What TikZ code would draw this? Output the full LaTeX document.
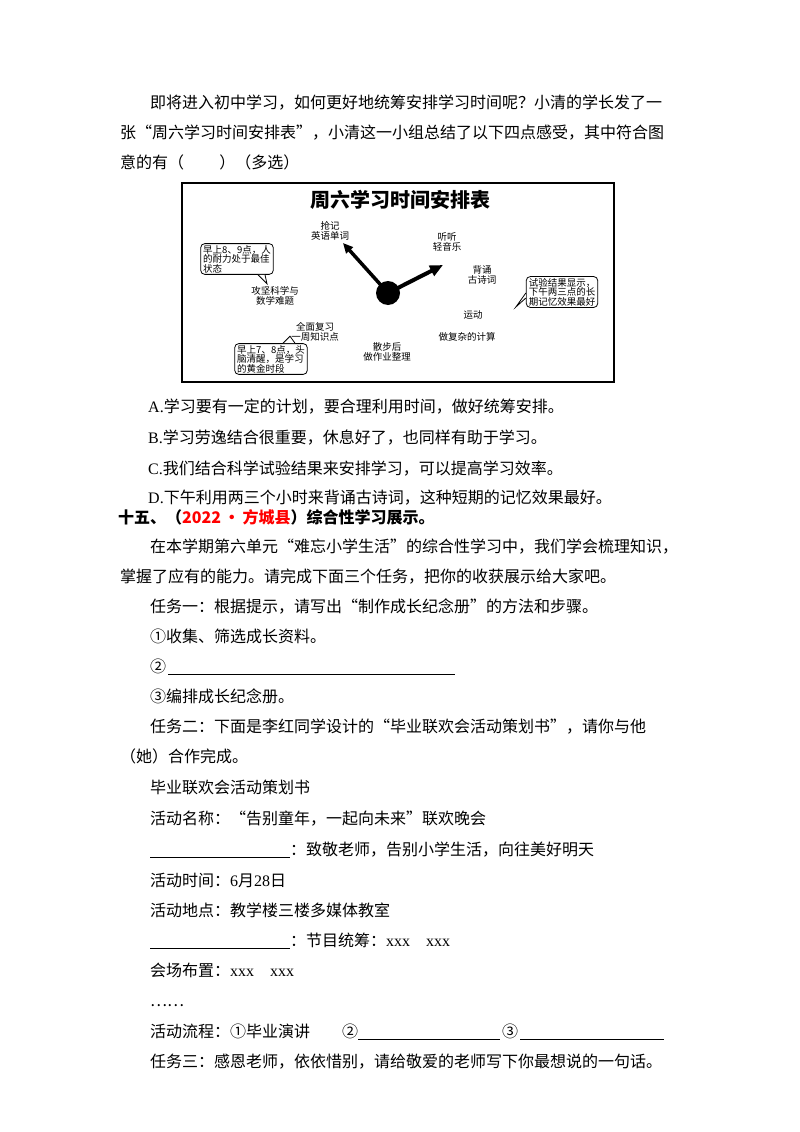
\documentclass[tikz,border=0pt]{standalone}
\usepackage{fontspec}
\usetikzlibrary{arrows.meta}
\setmainfont{Noto Sans CJK SC}
\newfontfamily\latinf{Liberation Serif}
\begin{document}
\begin{tikzpicture}[x=1pt,y=-1pt,
  tx/.style={anchor=base west,inner sep=0pt,font=\fontsize{16}{16}\selectfont},
  sm/.style={inner sep=0pt,align=center,font=\fontsize{9.5}{10}\selectfont},
  call/.style={draw,rounded corners=4pt,line width=0.8pt,inner xsep=2.5pt,inner ysep=1.5pt,align=left,font=\fontsize{9.5}{9.5}\selectfont},
  uline/.style={line width=0.6pt}]
\useasboundingbox (0,0) rectangle (800,1132);
\fill[white] (0,0) rectangle (800,1132);
\node[tx] (l1) at (150,108) {即将进入初中学习，如何更好地统筹安排学习时间呢？小清的学长发了一};
\node[tx] (l2) at (120,138) {张“周六学习时间安排表”，小清这一小组总结了以下四点感受，其中符合图};
\node[tx] (l3) at (120,168) {意的有（\hspace{2.2em}）（多选）};
% figure
\draw[line width=1.2pt] (182,183) rectangle (614,382);
\node[inner sep=0pt,font=\fontsize{20}{20}\selectfont\bfseries] (title) at (400,200) {周六学习时间安排表};
\node[circle,fill=black,minimum size=24pt,inner sep=0pt] (ctr) at (388,293) {};
\coordinate (h1) at (343,243);
\coordinate (h2) at (443,265);
\draw[line width=3.5pt,-{Triangle[width=9pt,length=10pt]}] (ctr.center) -- (h1);
\draw[line width=4pt,-{Triangle[width=11pt,length=13pt]}] (ctr.center) -- (h2);
\node[sm] (a1) at (330,231) {抢记\\英语单词};
\node[sm] (a2) at (447,242) {听听\\轻音乐};
\node[sm] (a3) at (482,275) {背诵\\古诗词};
\node[sm] (a4) at (275,296) {攻坚科学与\\数学难题};
\node[sm] (a5) at (473,315) {运动};
\node[sm] (a6) at (467,337) {做复杂的计算};
\node[sm] (a7) at (315,332) {全面复习\\一周知识点};
\node[sm] (a8) at (387,352) {散步后\\做作业整理};
\node[call] (c1) at (237,259) {早上8、9点，人\\的耐力处于最佳\\状态};
\draw[line width=0.8pt,fill=white] ([xshift=21pt]c1.south) -- ([xshift=30pt,yshift=-9pt]c1.south) -- ([xshift=28pt]c1.south);
\node[call] (c2) at (562,292) {试验结果显示，\\下午两三点的长\\期记忆效果最好};
\draw[line width=0.8pt,fill=white] ([yshift=-6pt]c2.west) -- ([xshift=-10pt,yshift=-15pt]c2.west) -- ([yshift=-1pt]c2.west);
\node[call] (c3) at (271,359) {早上7、8点，头\\脑清醒，是学习\\的黄金时段};
\draw[line width=0.8pt,fill=white] ([xshift=12pt]c3.north) -- ([xshift=19pt,yshift=7pt]c3.north) -- ([xshift=24pt]c3.north);
% options
\node[tx] (oA) at (148,412) {{\latinf A.}学习要有一定的计划，要合理利用时间，做好统筹安排。};
\node[tx] (oB) at (148,443) {{\latinf B.}学习劳逸结合很重要，休息好了，也同样有助于学习。};
\node[tx] (oC) at (148,474) {{\latinf C.}我们结合科学试验结果来安排学习，可以提高学习效率。};
\node[tx] (oD) at (148,503) {{\latinf D.}下午利用两三个小时来背诵古诗词，这种短期的记忆效果最好。};
\node[tx,font=\fontsize{16}{16}\selectfont\bfseries] (h15) at (118,523) {十五、（\textcolor{red}{2022\,•\,方城县}）综合性学习展示。};
\node[tx] (p1) at (150,552) {在本学期第六单元“难忘小学生活”的综合性学习中，我们学会梳理知识，};
\node[tx] (p2) at (120,582) {掌握了应有的能力。请完成下面三个任务，把你的收获展示给大家吧。};
\node[tx] (t1) at (150,612) {任务一：根据提示，请写出“制作成长纪念册”的方法和步骤。};
\node[tx] (s1) at (150,642) {①收集、筛选成长资料。};
\node[tx] (s2) at (150,672) {②};
\coordinate (u2a) at (168,674); \coordinate (u2b) at (455,674);
\draw[uline] (u2a) -- (u2b);
\node[tx] (s3) at (150,702) {③编排成长纪念册。};
\node[tx] (t2) at (150,732) {任务二：下面是李红同学设计的“毕业联欢会活动策划书”，请你与他};
\node[tx] (t2b) at (120,762) {（她）合作完成。};
\node[tx] (b1) at (150,793) {毕业联欢会活动策划书};
\node[tx] (b2) at (150,824) {活动名称：“告别童年，一起向未来”联欢晚会};
\draw[uline] (150,857) -- (290,857);
\node[tx] (b3) at (290,855) {：致敬老师，告别小学生活，向往美好明天};
\node[tx] (b4) at (150,886) {活动时间：{\latinf 6}月{\latinf 28}日};
\node[tx] (b5) at (150,916) {活动地点：教学楼三楼多媒体教室};
\draw[uline] (150,948) -- (290,948);
\node[tx] (b6) at (290,946) {：节目统筹：{\latinf xxx\quad xxx}};
\node[tx] (b7) at (150,976) {会场布置：{\latinf xxx\quad xxx}};
\node[tx] (b8) at (150,1006) {……};
\node[tx] (b9) at (150,1037) {活动流程：①毕业演讲\quad\quad ②};
\draw[uline] (358,1039) -- (500,1039);
\node[tx] (b9c) at (502,1037) {③};
\draw[uline] (520,1039) -- (664,1039);
\node[tx] (t3) at (150,1067) {任务三：感恩老师，依依惜别，请给敬爱的老师写下你最想说的一句话。};
\end{tikzpicture}
\end{document}
